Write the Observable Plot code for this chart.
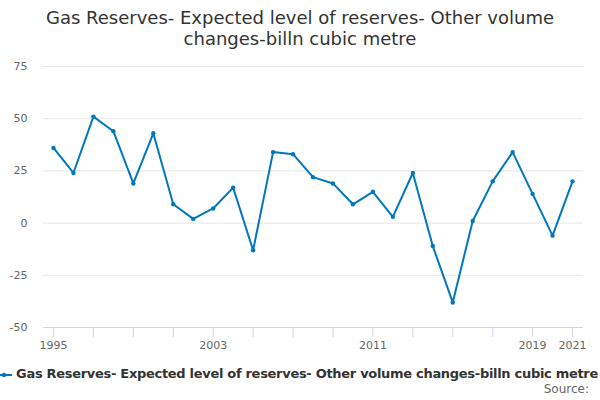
<!DOCTYPE html>
<html>
<head>
<meta charset="utf-8">
<script src="https://cdn.jsdelivr.net/npm/d3@7"></script>
<script src="https://cdn.jsdelivr.net/npm/@observablehq/plot@0.6"></script>
<style>
  body { margin: 0; background: #fff; font-family: "DejaVu Sans", sans-serif; }
  #wrap { position: relative; width: 600px; height: 400px; overflow: hidden; }
  #title { position: absolute; top: 7px; left: 0; width: 600px; text-align: center; font-size: 18px; line-height: 21px; color: #333; }
  #chart { position: absolute; top: 55px; left: 0; }
  #legend { position: absolute; top: 366px; left: 0; width: 600px; height: 16px; font-size: 13px; letter-spacing: -0.3px; font-weight: bold; color: #333; }
  #legend svg { vertical-align: middle; }
  #source { position: absolute; top: 382px; right: 11px; font-size: 12px; color: #666; }
</style>
</head>
<body>
<div id="wrap">
  <div id="title">Gas Reserves- Expected level of reserves- Other volume<br>changes-billn cubic metre</div>
  <div id="chart"></div>
  <div id="legend"></div>
  <div id="source">Source:</div>
</div>
<script>
const years = [1995,1996,1997,1998,1999,2000,2001,2002,2003,2004,2005,2006,2007,2008,2009,2010,2011,2012,2013,2014,2015,2016,2017,2018,2019,2020,2021];
const values = [36,24,51,44,19,43,9,2,7,17,-13,34,33,22,19,9,15,3,24,-11,-38,1,20,34,14,-6,20];
const yTicks = [-50,-25,0,25,50,75];
const xTickMarks = [1995,1997,1999,2001,2003,2005,2007,2009,2011,2013,2015,2017,2019,2021];
const xTickLabels = [1995,2003,2011,2019,2021];
const seriesName = "Gas Reserves- Expected level of reserves- Other volume changes-billn cubic metre";
const color = "#0077c0";

const data = years.map((y, i) => ({year: y, value: values[i]}));

const chart = Plot.plot({
  width: 600,
  height: 300,
  marginTop: 11,
  marginBottom: 28,
  marginLeft: 43,
  marginRight: 17,
  style: {fontFamily: "DejaVu Sans, sans-serif", fontSize: "11px", color: "#666", background: "white"},
  x: {domain: [1994.5, 2021.55]},
  y: {domain: [-50, 75]},
  marks: [
    Plot.gridY(yTicks, {stroke: "#e6e6e6", strokeOpacity: 1}),
    Plot.axisY(yTicks, {tickSize: 0, tickPadding: 16, label: null, fill: "#666", fontSize: 11, tickFormat: d => String(d)}),
    Plot.ruleY([-50], {stroke: "#ccd6eb", strokeWidth: 1}),
    Plot.axisX(xTickMarks, {tickSize: 10, stroke: "#ccd6eb", strokeOpacity: 1, tickFormat: () => "", label: null}),
    Plot.axisX(xTickLabels, {tickSize: 0, tickPadding: 14, tickFormat: d => String(d), label: null, fill: "#666", fontSize: 11}),
    Plot.line(data, {x: "year", y: "value", stroke: color, strokeWidth: 2}),
    Plot.dot(data, {x: "year", y: "value", fill: color, r: 2.2})
  ]
});
document.getElementById("chart").appendChild(chart);

const legend = document.getElementById("legend");
legend.innerHTML = `<span style="position:absolute;right:2px;top:0;white-space:nowrap"><svg width="16" height="12"><line x1="0" y1="6" x2="16" y2="6" stroke="${color}" stroke-width="2"/><circle cx="8" cy="6" r="2.2" fill="${color}"/></svg> <span>${seriesName}</span></span>`;
</script>
</body>
</html>
